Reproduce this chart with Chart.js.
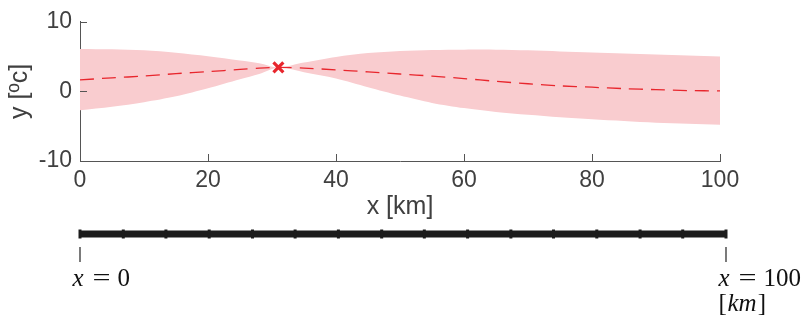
<!DOCTYPE html>
<html>
<head>
<meta charset="utf-8">
<script src="https://cdn.jsdelivr.net/npm/chart.js@4.4.0/dist/chart.umd.min.js"></script>
<style>
    html, body { margin: 0; padding: 0; background: #fff; }
    #wrap { position: relative; width: 808px; height: 320px; }
    #main { position: absolute; left: 0; top: 0; }
    #domain { position: absolute; left: 0; top: 200px; }
</style>
</head>
<body>
<div id="wrap">
    <canvas id="main" width="808" height="240"></canvas>
    <canvas id="domain" width="808" height="120"></canvas>
</div>
<script>
// profile along x (km)
const xs    = [0, 5, 10, 15, 20, 25, 28, 31, 35, 40, 45, 50, 55, 60, 65, 70, 75, 80, 85, 90, 95, 100];
const upper = [6.1, 6.05, 5.9, 5.55, 5.05, 4.45, 4.05, 3.45, 4.15, 4.95, 5.5, 5.8, 5.95, 6.0, 6.0, 5.9, 5.75, 5.6, 5.45, 5.3, 5.15, 5.0];
const mean  = [1.65, 1.95, 2.2, 2.55, 2.85, 3.15, 3.35, 3.45, 3.35, 3.1, 2.8, 2.5, 2.2, 1.85, 1.45, 1.1, 0.8, 0.6, 0.4, 0.25, 0.12, 0.07];
const lower = [-2.7, -2.2, -1.55, -0.7, 0.45, 1.75, 2.5, 3.45, 2.75, 1.85, 0.6, -0.6, -1.65, -2.4, -2.95, -3.35, -3.7, -4.0, -4.25, -4.5, -4.65, -4.8];

// observation
const obsX = [31];
const obsY = [3.45];

const xTicks = [0, 20, 40, 60, 80, 100];
const yTicks = [-10, 0, 10];

// domain sketch
const nodes = [0, 6.7, 13.3, 20, 26.7, 33.3, 40, 46.7, 53.3, 60, 66.7, 73.3, 80, 86.7, 93.3, 100];
const ends = [0, 100];
const endLabels = ['0', '100'];

const red = '#e8262d';
const txt = '#404040';
const sans = '"Liberation Sans", Arial, sans-serif';
const serif = '"Liberation Serif", serif';

function pts(ys) {
    return xs.map((x, i) => ({ x: x, y: ys[i] }));
}

const inwardTicks = {
    id: 'inwardTicks',
    afterDraw(chart) {
        const { ctx, chartArea: a, scales } = chart;
        ctx.save();
        ctx.strokeStyle = '#555';
        ctx.lineWidth = 1;
        ctx.beginPath();
        xTicks.forEach(v => {
            const px = Math.round(scales.x.getPixelForValue(v)) + 0.5;
            ctx.moveTo(px, a.bottom);
            ctx.lineTo(px, a.bottom - 7);
        });
        yTicks.forEach(v => {
            const py = Math.round(scales.y.getPixelForValue(v)) + 0.5;
            ctx.moveTo(a.left, py);
            ctx.lineTo(a.left + 7, py);
        });
        ctx.stroke();
        ctx.restore();
    }
};

new Chart(document.getElementById('main'), {
    type: 'line',
    data: {
        datasets: [{
            data: pts(upper),
            order: 3,
            borderWidth: 0,
            pointRadius: 0,
            backgroundColor: 'rgb(249,204,207)',
            fill: '+1',
            tension: 0.3
        }, {
            data: pts(lower),
            order: 2,
            borderWidth: 0,
            pointRadius: 0,
            fill: false,
            tension: 0.3
        }, {
            data: pts(mean),
            order: 1,
            borderColor: red,
            borderWidth: 1.3,
            borderDash: [14, 8],
            pointRadius: 0,
            fill: false,
            tension: 0.3
        }, {
            data: obsX.map((x, i) => ({ x: x, y: obsY[i] })),
            order: 0,
            showLine: false,
            pointStyle: 'crossRot',
            pointRadius: 7,
            pointBorderWidth: 3.2,
            pointBorderColor: red,
            pointBackgroundColor: red
        }]
    },
    options: {
        responsive: false,
        animation: false,
        layout: { padding: { left: 0, right: 88, top: 20, bottom: 0 } },
        plugins: { legend: { display: false }, tooltip: { enabled: false } },
        scales: {
            x: {
                type: 'linear',
                min: 0,
                max: 100,
                afterBuildTicks: s => { s.ticks = xTicks.map(v => ({ value: v })); },
                afterFit: s => { s.height = 79; },
                grid: { display: false, drawTicks: false },
                border: { display: true, color: '#555', width: 1 },
                ticks: { color: txt, padding: 6, font: { family: sans, size: 23 } },
                title: { display: true, text: 'x [km]', color: txt, padding: { top: 0, bottom: 18 }, font: { family: sans, size: 25 } }
            },
            y: {
                min: -10,
                max: 10,
                afterBuildTicks: s => { s.ticks = yTicks.map(v => ({ value: v })); },
                afterFit: s => { s.width = 80; },
                grid: { display: false, drawTicks: false },
                border: { display: true, color: '#555', width: 1 },
                ticks: { color: txt, padding: 8, font: { family: sans, size: 23 } },
                title: { display: true, text: 'y [ºc]', color: txt, padding: { top: 5, bottom: 0 }, font: { family: sans, size: 25 } }
            }
        }
    },
    plugins: [inwardTicks]
});

const domainLabels = {
    id: 'domainLabels',
    afterDraw(chart) {
        const { ctx, scales } = chart;
        ctx.save();
        ctx.strokeStyle = '#222';
        ctx.fillStyle = '#111';
        ctx.lineWidth = 1.2;
        ctx.textBaseline = 'alphabetic';
        ends.forEach((v, i) => {
            const px = scales.x.getPixelForValue(v);
            ctx.beginPath();
            ctx.moveTo(px, 47);
            ctx.lineTo(px, 62);
            ctx.stroke();

            const start = px - 7.5;
            ctx.font = 'italic 25px ' + serif;
            ctx.fillText('x', start, 86);
            ctx.font = '25px ' + serif;
            ctx.save();
            ctx.translate(start + 20, 86);
            ctx.scale(1.28, 1);
            ctx.fillText('=', 0, 0);
            ctx.restore();
            ctx.fillText(endLabels[i], start + 45, 86);
            if (i === ends.length - 1) {
                ctx.fillText('[', start, 111);
                ctx.font = 'italic 25px ' + serif;
                ctx.fillText('km', start + 9, 111);
                const w = ctx.measureText('km').width;
                ctx.font = '25px ' + serif;
                ctx.fillText(']', start + 10 + w, 111);
            }
        });
        ctx.restore();
    }
};

new Chart(document.getElementById('domain'), {
    type: 'line',
    data: {
        datasets: [{
            data: nodes.map(v => ({ x: v, y: 0 })),
            borderColor: '#1c1c1c',
            borderWidth: 7,
            borderCapStyle: 'butt',
            pointStyle: 'line',
            pointRotation: 90,
            pointRadius: 4.5,
            pointBorderWidth: 3,
            pointBorderColor: '#1c1c1c',
            pointBackgroundColor: '#1c1c1c',
            clip: false
        }]
    },
    options: {
        responsive: false,
        animation: false,
        layout: { padding: { left: 80, right: 82, top: 24, bottom: 76 } },
        plugins: { legend: { display: false }, tooltip: { enabled: false } },
        scales: {
            x: { type: 'linear', display: false, min: 0, max: 100 },
            y: { display: false, min: -1, max: 1 }
        }
    },
    plugins: [domainLabels]
});
</script>
</body>
</html>
